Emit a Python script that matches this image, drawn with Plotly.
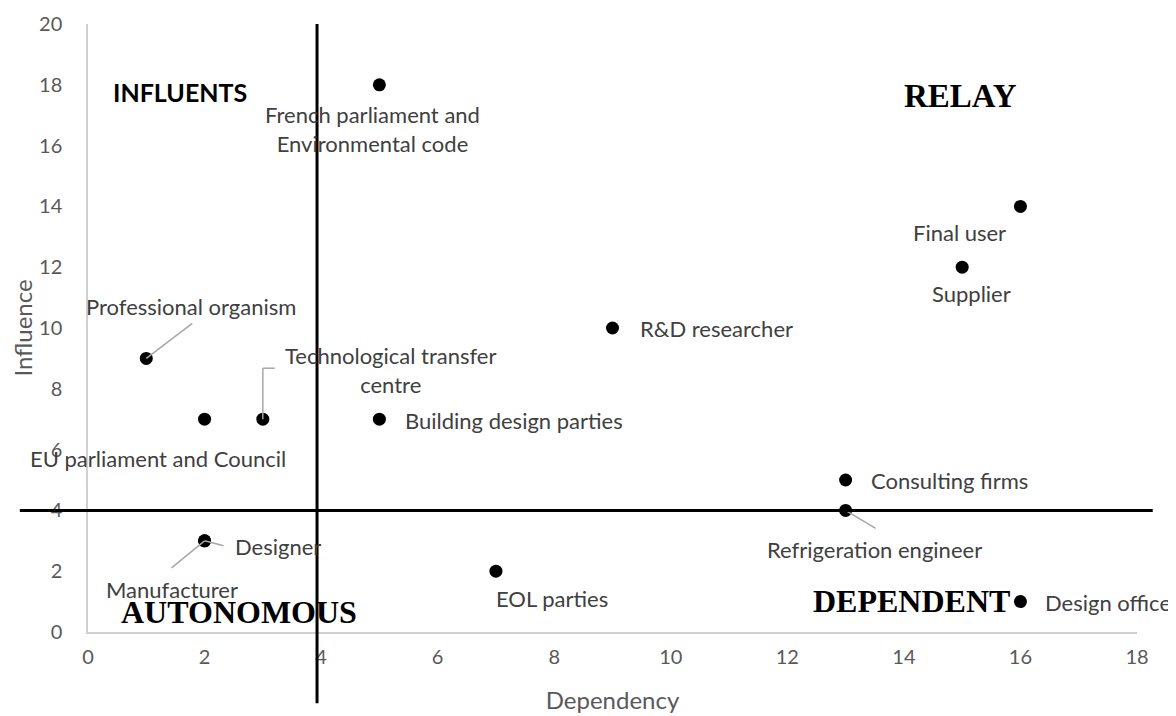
import plotly.graph_objects as go

# ---- data ----
actors = ["French parliament and<br>Environmental code", "Final user", "Supplier", "R&D researcher",
          "Professional organism", "EU parliament and Council", "Technological transfer<br>centre",
          "Building design parties", "Consulting firms", "Refrigeration engineer",
          "Designer", "Manufacturer", "EOL parties", "Design office"]
dependency = [5, 16, 15, 9, 1, 2, 3, 5, 13, 13, 2, 2, 7, 16]
influence = [18, 14, 12, 10, 9, 7, 7, 7, 5, 4, 3, 3, 2, 1]

x_ticks = [0, 2, 4, 6, 8, 10, 12, 14, 16, 18]
y_ticks = [0, 2, 4, 6, 8, 10, 12, 14, 16, 18, 20]
quadrant_x = 3.93
quadrant_y = 4

# label placement: (xanchor, dx px, dy px (down positive))
label_pos = [("center", -7, 44), ("center", -61, 26), ("center", 9, 26), ("left", 25, 0),
             ("center", 45, -52), ("center", -47, 39), ("center", 128, -49),
             ("left", 24, 1), ("left", 23, 0), ("center", 29, 39),
             ("left", 28, 6), ("center", -33, 49), ("center", 56, 27), ("left", 23, 1)]

# leader lines: index -> list of pixel polyline points relative to the marker (dx, dy down)
leaders = {4: [(0, 0), (46, -35)],
           6: [(0, 0), (0, -51), (12, -51)],
           9: [(0, 0), (30, 18)],
           10: [(0, 0), (19, 5)],
           11: [(0, 0), (-33, 27)]}

FONT = "Lato"
LABEL_COLOR = "#404040"
TICK_COLOR = "#595959"

fig = go.Figure()
fig.add_trace(go.Scatter(x=dependency, y=influence, mode="markers",
                         marker=dict(color="black", size=13), hoverinfo="skip",
                         showlegend=False, cliponaxis=False))

annotations = []
for i, txt in enumerate(actors):
    xa, dx, dy = label_pos[i]
    annotations.append(dict(x=dependency[i], y=influence[i], xref="x", yref="y", text=txt,
                            showarrow=False, xanchor=xa, yanchor="middle", xshift=dx, yshift=-dy,
                            font=dict(family=FONT, size=22, color=LABEL_COLOR), align="center"))

quadrants = [("INFLUENTS", 0.0877, 0.888, FONT, 25),
             ("RELAY", 0.8313, 0.8816, "Liberation Serif", 33),
             ("AUTONOMOUS", 0.144, 0.0329, "Liberation Serif", 32),
             ("DEPENDENT", 0.7855, 0.051, "Liberation Serif", 32)]
for t, px, py, fam, sz in quadrants:
    annotations.append(dict(x=px, y=py, xref="paper", yref="paper", text="<b>%s</b>" % t,
                            showarrow=False, xanchor="center", yanchor="middle",
                            font=dict(family=fam, size=sz, color="black")))

shapes = []
for i, pts in leaders.items():
    for (x0, y0), (x1, y1) in zip(pts[:-1], pts[1:]):
        shapes.append(dict(type="line", xref="x", yref="y", xsizemode="pixel", ysizemode="pixel",
                           xanchor=dependency[i], yanchor=influence[i],
                           x0=x0, x1=x1, y0=-y0, y1=-y1,
                           line=dict(color="#a6a6a6", width=1.5)))
shapes.append(dict(type="line", xref="x", yref="paper", x0=quadrant_x, x1=quadrant_x, y0=-0.117, y1=1,
                   line=dict(color="black", width=3)))
shapes.append(dict(type="line", xref="paper", yref="y", x0=-0.065, x1=1.015, y0=quadrant_y, y1=quadrant_y,
                   line=dict(color="black", width=3)))

fig.update_layout(
    width=1176, height=716,
    margin=dict(l=80, r=47, t=16, b=92),
    plot_bgcolor="white", paper_bgcolor="white",
    annotations=annotations, shapes=shapes,
    xaxis=dict(range=[0, 18], tickvals=x_ticks, showgrid=False, zeroline=False, automargin=False,
               showline=True, linecolor="#d0d0d0", linewidth=1.5,
               tickfont=dict(family=FONT, size=20, color=TICK_COLOR), ticklabelstandoff=6,
               title=dict(text="Dependency", font=dict(family=FONT, size=24, color=TICK_COLOR), standoff=25)),
    yaxis=dict(range=[0, 20], tickvals=y_ticks, showgrid=False, zeroline=False, automargin=False,
               showline=True, linecolor="#d0d0d0", linewidth=1.5,
               tickfont=dict(family=FONT, size=20, color=TICK_COLOR), ticklabelstandoff=20,
               title=dict(text="Influence", font=dict(family=FONT, size=24, color=TICK_COLOR), standoff=20)),
)

fig.write_html("out.html")
